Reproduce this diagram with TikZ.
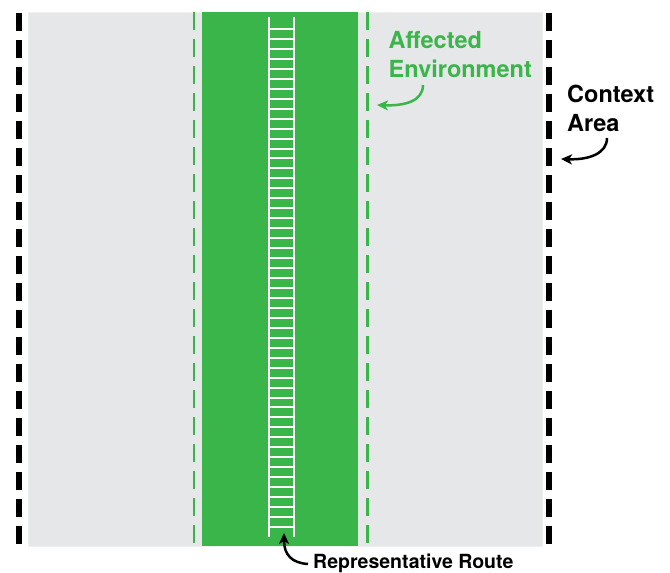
\documentclass[tikz,border=0pt]{standalone}
\usepackage{fontspec}
\setmainfont{TeX Gyre Heros}
\usetikzlibrary{arrows.meta}
\definecolor{ctxgray}{HTML}{E6E7E8}
\definecolor{ctxedge}{HTML}{EEEFEF}
\definecolor{envgreen}{HTML}{39B54A}
\tikzset{
  blackdash/.style={black, line width=6pt, dash pattern=on 18pt off 9pt},
  greendash/.style={envgreen, line width=2.5pt, dash pattern=on 18pt off 9pt},
  rail/.style={white, line width=2pt},
  biglabel/.style={inner sep=0pt, align=left, font=\fontsize{23.5}{29.5}\selectfont\bfseries},
  smalllabel/.style={inner sep=0pt, font=\fontsize{19.5}{24}\selectfont\bfseries},
  callout/.style={line width=2.5pt, -{Stealth[length=11pt,width=10pt,inset=3pt]}}
}
\begin{document}
\begin{tikzpicture}[x=1pt,y=-1pt]
\useasboundingbox (0,0) rectangle (670,573);
% context area background
\fill[ctxgray, draw=ctxedge, line width=1pt] (28,12) rectangle (542,546);
% affected environment band
\fill[envgreen] (201.7,12) rectangle (358.3,545.7);
% context boundaries
\draw[blackdash] (19,13) -- (19,548);
\draw[blackdash] (549,13) -- (549,548);
% affected environment boundaries
\draw[greendash] (194,12) -- (194,546);
\draw[greendash] (367.3,12) -- (367.3,546);
% representative route (ladder)
\draw[rail] (269,17) -- (269,537);
\draw[rail] (294.3,17) -- (294.3,537);
\foreach \i in {0,...,50} {
  \draw[rail] (269,{29+\i*9.96}) -- (294.3,{29+\i*9.96});
}
% labels
\node[biglabel, text=envgreen, anchor=north west] (ae) at (388.5,31) {Affected\\Environment};
\node[biglabel, text=black, anchor=north west] (ca) at (567,84.5) {Context\\Area};
\node[smalllabel, anchor=base west] (rr) at (313,568.5) {Representative Route};
% callout arrows
\coordinate (aes) at (423,85);
\coordinate (aet) at (377,105);
\coordinate (cas) at (607,138);
\coordinate (cat) at (561,159);
\coordinate (rrs) at (308,564);
\coordinate (rrt) at (284,533);
\draw[callout, envgreen] (aes) .. controls (423,101) and (405,106) .. (aet);
\draw[callout, black] (cas) .. controls (607,153) and (590,160) .. (cat);
\draw[callout, black] (rrs) .. controls (292,563) and (284,555) .. (rrt);
\end{tikzpicture}
\end{document}
